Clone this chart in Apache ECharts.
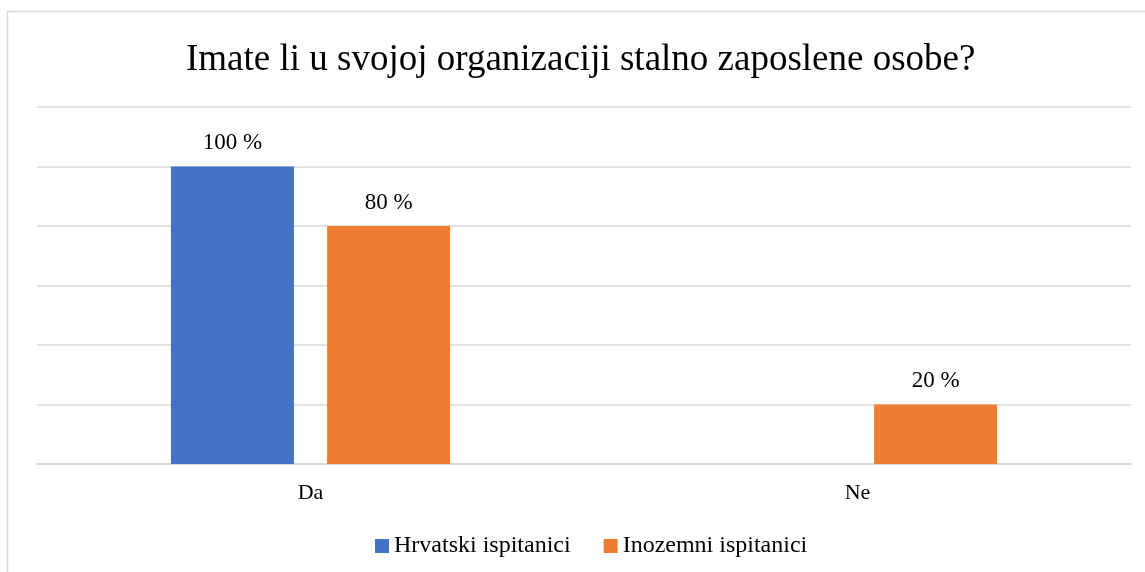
<!DOCTYPE html>
<html>
<head>
<meta charset="utf-8">
<script src="https://cdn.jsdelivr.net/npm/echarts@6/dist/echarts.min.js"></script>
<style>
  html, body { margin: 0; padding: 0; background: #fff; }
  #chart { width: 1145px; height: 572px; }
</style>
</head>
<body>
<div id="chart"></div>
<script>
const categories = ['Da', 'Ne']
const hrvatski = [100, '-']
const inozemni = [80, 20]
const yTicks = { min: 0, max: 120, interval: 20 }

const serif = '"Liberation Serif", "Times New Roman", serif'
const gridColor = '#d9d9d9'

const chart = echarts.init(document.querySelector('#chart'))

const barLabel = {
  show: true,
  position: 'top',
  distance: 12,
  formatter: '{c} %',
  color: '#000',
  fontFamily: serif,
  fontSize: 23
}

chart.setOption({
  animation: false,
  textStyle: { fontFamily: serif },
  graphic: [{
    // chart frame (its right and bottom edges fall outside the picture)
    type: 'rect',
    shape: { x: 7.5, y: 11.5, width: 1200, height: 600 },
    style: { fill: 'none', stroke: gridColor, lineWidth: 1.5 },
    silent: true
  }],
  title: {
    text: 'Imate li u svojoj organizaciji stalno zaposlene osobe?',
    left: 181,
    top: 37,
    textStyle: {
      fontFamily: serif,
      fontWeight: 'normal',
      fontSize: 37,
      color: '#000'
    }
  },
  legend: {
    bottom: 9,
    left: 370,
    itemWidth: 14,
    itemHeight: 14,
    itemGap: 33,
    icon: 'rect',
    textStyle: { fontFamily: serif, fontSize: 24, color: '#000' },
    data: ['Hrvatski ispitanici', 'Inozemni ispitanici']
  },
  grid: {
    left: 37,
    right: 14,
    top: 107,
    bottom: 108
  },
  xAxis: {
    type: 'category',
    data: categories,
    axisLine: { lineStyle: { color: gridColor, width: 2 } },
    axisTick: { show: false },
    axisLabel: { color: '#000', fontFamily: serif, fontSize: 22, margin: 18 }
  },
  yAxis: {
    type: 'value',
    min: yTicks.min,
    max: yTicks.max,
    interval: yTicks.interval,
    axisLabel: { show: false },
    axisLine: { show: false },
    axisTick: { show: false },
    splitLine: { lineStyle: { color: gridColor, width: 1.5 } }
  },
  series: [{
    name: 'Hrvatski ispitanici',
    type: 'bar',
    data: hrvatski,
    barWidth: 123,
    barGap: '27%',
    itemStyle: { color: '#4472C4' },
    label: barLabel
  }, {
    name: 'Inozemni ispitanici',
    type: 'bar',
    data: inozemni,
    barWidth: 123,
    barGap: '27%',
    itemStyle: { color: '#ED7D31' },
    label: barLabel
  }]
})
</script>
</body>
</html>
